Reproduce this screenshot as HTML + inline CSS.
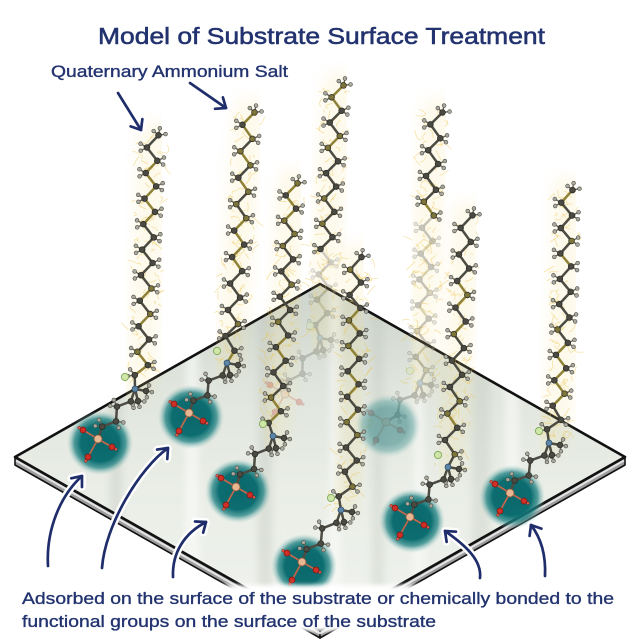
<!DOCTYPE html>
<html><head><meta charset="utf-8">
<style>
html,body{margin:0;padding:0;background:#fff}
body{width:640px;height:640px;overflow:hidden}
svg{display:block}
text{font-family:"Liberation Sans",Arial,sans-serif}
</style></head>
<body>
<svg id="s" width="640" height="640" viewBox="0 0 640 640" xmlns="http://www.w3.org/2000/svg">
<defs>
<radialGradient id="blob" cx="50%" cy="50%" r="50%">
<stop offset="0" stop-color="#0a676a"/>
<stop offset="0.58" stop-color="#0c6d70"/>
<stop offset="0.78" stop-color="#1e8182" stop-opacity="0.75"/>
<stop offset="1" stop-color="#9cc6c3" stop-opacity="0"/>
</radialGradient>
<linearGradient id="surf" gradientUnits="userSpaceOnUse" x1="0" y1="284" x2="0" y2="630">
<stop offset="0" stop-color="#cdd4cb"/>
<stop offset="0.3" stop-color="#e0e5dd"/>
<stop offset="0.6" stop-color="#eaeee7"/>
<stop offset="1" stop-color="#f0f3ee"/>
</linearGradient>
<filter id="b6" x="-50%" y="-50%" width="200%" height="200%"><feGaussianBlur stdDeviation="7"/></filter>
<filter id="b4" x="-50%" y="-50%" width="200%" height="200%"><feGaussianBlur stdDeviation="4"/></filter>
<filter id="b2" x="-20%" y="-50%" width="140%" height="200%"><feGaussianBlur stdDeviation="2"/></filter>
<clipPath id="pc"><polygon points="320,284 625,457 320,630 15,457"/></clipPath>
</defs>

<polygon points="15,457 320,630 320,638 15,465" fill="#9d9d9d" stroke="#111" stroke-width="1.6" stroke-linejoin="round"/>
<polygon points="625,457 320,630 320,638 625,465" fill="#9d9d9d" stroke="#111" stroke-width="1.6" stroke-linejoin="round"/>
<line x1="16" y1="460.5" x2="320" y2="633.5" stroke="#e4e4e4" stroke-width="2"/>
<line x1="624" y1="460.5" x2="320" y2="633.5" stroke="#e4e4e4" stroke-width="2"/>
<polygon points="320,284 625,457 320,630 15,457" fill="url(#surf)"/>
<g clip-path="url(#pc)" filter="url(#b4)">
<rect x="110" y="280" width="12" height="360" fill="#b9c0b6" opacity="0.35"/>
<rect x="186" y="280" width="12" height="360" fill="#ffffff" opacity="0.55"/>
<rect x="258" y="280" width="14" height="360" fill="#b9c0b6" opacity="0.35"/>
<rect x="330" y="280" width="10" height="360" fill="#ffffff" opacity="0.5"/>
<rect x="372" y="280" width="12" height="360" fill="#b9c0b6" opacity="0.3"/>
<rect x="414" y="280" width="10" height="360" fill="#ffffff" opacity="0.5"/>
<rect x="472" y="280" width="18" height="360" fill="#b9c0b6" opacity="0.3"/>
<rect x="505" y="280" width="14" height="360" fill="#ffffff" opacity="0.5"/>
</g>
<polygon points="320,284 625,457 320,630 15,457" fill="none" stroke="#111" stroke-width="2.6" stroke-linejoin="round"/>

<g id="glow"></g>
<g id="fade"></g>
<g id="blobs"></g>
<g id="dark"></g>
<g id="arrows"></g>

<rect x="-10" y="585" width="660" height="46" fill="#fff" filter="url(#b2)"/>

<g fill="#22336f" stroke="#22336f">
<text x="98" y="44" font-size="23" stroke-width="0.55" textLength="447" lengthAdjust="spacingAndGlyphs">Model of Substrate Surface Treatment</text>
<text x="51" y="77" font-size="16.5" stroke-width="0.35" textLength="237" lengthAdjust="spacingAndGlyphs">Quaternary Ammonium Salt</text>
<text x="22" y="604" font-size="17" stroke-width="0.35" textLength="592" lengthAdjust="spacingAndGlyphs">Adsorbed on the surface of the substrate or chemically bonded to the</text>
<text x="22" y="627" font-size="17" stroke-width="0.35" textLength="414" lengthAdjust="spacingAndGlyphs">functional groups on the surface of the substrate</text>
</g>
</svg>
<script>
(function(){
var NS='http://www.w3.org/2000/svg';
var S=document.getElementById('s');
function el(t,a,p){var e=document.createElementNS(NS,t);for(var k in a)e.setAttribute(k,a[k]);(p||S).appendChild(e);return e;}
var seed=12345;function rnd(){seed=(seed*16807)%2147483647;return (seed-1)/2147483646;}
var GL=document.getElementById('glow'),FD=document.getElementById('fade'),BL=document.getElementById('blobs'),DK=document.getElementById('dark'),AR=document.getElementById('arrows');

function along(pts){
  var seg=[],tot=0;
  for(var i=0;i<pts.length-1;i++){var dx=pts[i+1][0]-pts[i][0],dy=pts[i+1][1]-pts[i][1],l=Math.hypot(dx,dy);seg.push([pts[i][0],pts[i][1],dx/l,dy/l,l]);tot+=l;}
  return {tot:tot,at:function(s){for(var k=0;k<seg.length;k++){var g=seg[k];if(s<=g[4]+1e-6||k==seg.length-1){s=Math.min(s,g[4]);return [g[0]+g[2]*s,g[1]+g[3]*s,g[2],g[3]];}s-=g[4];}}};
}
function zig(pts,step,amp,side0,zeroStart){
  var A=along(pts),n=Math.max(1,Math.round(A.tot/step)),out=[];
  for(var i=0;i<=n;i++){var p=A.at(A.tot*i/n);var s=((i+side0)%2)?1:-1;var px=-p[3]*s,py=p[2]*s;var a=(i==n||(zeroStart&&i==0))?0:amp;
    out.push({x:p[0]+px*a,y:p[1]+py*a,px:px,py:py,dx:p[2],dy:p[3]});}
  return out;
}
function L(){return {b:[],h:[],c:[],x:[]};}
function bondCol(){return rnd()<0.3?'#8f8236':'#4c4c43';}
function carbCol(){return rnd()<0.25?'#7d743a':'#4a4a42';}
function addH(lst,c){
  lst.h.push([c.x,c.y,c.x+c.px*6.5-c.dx*3.5,c.y+c.py*6.5-c.dy*3.5]);
  lst.h.push([c.x,c.y,c.x+c.px*6+c.dx*3.5,c.y+c.py*6+c.dy*3.5]);
}
function addMethyl(lst,x0,y0,x,y){
  lst.b.push([x0,y0,x,y,'#4c4c43']);
  var dx=x-x0,dy=y-y0,l=Math.hypot(dx,dy);dx/=l;dy/=l;var px=-dy,py=dx;
  lst.h.push([x,y,x+dx*6,y+dy*6]);
  lst.h.push([x,y,x+dx*2+px*6,y+dy*2+py*6]);
  lst.h.push([x,y,x+dx*2-px*6,y+dy*2-py*6]);
  lst.c.push([x,y,'#4a4a42']);
}
function draw(g,lst){
  lst.b.forEach(function(b){el('line',{x1:b[0],y1:b[1],x2:b[2],y2:b[3],stroke:b[4],'stroke-width':b[5]||2.5,'stroke-linecap':'round'},g);});
  lst.h.forEach(function(h){el('line',{x1:h[0],y1:h[1],x2:h[2],y2:h[3],stroke:'#66665c','stroke-width':1.4},g);});
  lst.h.forEach(function(h){el('circle',{cx:h[2],cy:h[3],r:1.9,fill:'#a9a99f',stroke:'#4a4a42','stroke-width':0.6},g);});
  lst.c.forEach(function(c){el('circle',{cx:c[0],cy:c[1],r:c[3]||2.9,fill:c[2],stroke:c[4]||'#2a2a25','stroke-width':c[5]||0.7},g);});
}
function head(lst,N,P){
  var hz=zig([N,P],12.5,4,1,true);var n=hz.length-1;
  for(var i=0;i<n;i++)lst.b.push([hz[i].x,hz[i].y,hz[i+1].x,hz[i+1].y,'#4c4c43']);
  for(var i=1;i<n;i++){addH(lst,hz[i]);lst.c.push([hz[i].x,hz[i].y,'#4a4a42']);}
  addMethyl(lst,N[0],N[1],N[0]+11,N[1]+2);
  addMethyl(lst,N[0],N[1],N[0]+3,N[1]+12);
  lst.c.push([N[0],N[1],'#5b84a6',3,'#2c4a66']);
  lst.c.push([N[0]-10,N[1]-12,'#cfe6a8',3.6,'#86ad62',1]);
  var O=[[-15,-9],[14,8],[-10,18]];
  O.forEach(function(o){
    var ox=P[0]+o[0],oy=P[1]+o[1];lst.b.push([P[0],P[1],ox,oy,'#c4664c',1.7]);
  });
  O.forEach(function(o){
    var ox=P[0]+o[0],oy=P[1]+o[1],l=Math.hypot(o[0],o[1]);
    var sx=ox+o[0]/l*4.5,sy=oy+o[1]/l*4.5;
    lst.b.push([ox,oy,sx,sy,'#b03028',1.4]);
    lst.c.push([sx,sy,'#e06050',1.4,'#8a2018',0.5]);
    lst.c.push([ox,oy,'#cf2f26',3,'#7c1712']);
  });
  lst.c.push([P[0],P[1],'#e8b690',4,'#8b5b3e',0.8]);
}
function molecule(d){
  var cs=zig(d.axis,13,5.5,0,false);
  var A=along(d.axis);
  var pts=d.axis.map(function(p){return p.join(',');}).join(' ');
  el('polyline',{points:pts,fill:'none',stroke:'#f3dc85','stroke-width':30,opacity:0.16,filter:'url(#b6)','stroke-linecap':'round'},GL);
  var nw=Math.round(A.tot/100*34);
  for(var i=0;i<nw;i++){var p=A.at(rnd()*A.tot);var off=(rnd()-0.5)*32;var x=p[0]-p[3]*off,y=p[1]+p[2]*off;
    el('path',{d:'M'+x.toFixed(1)+','+y.toFixed(1)+' q'+((rnd()-0.5)*10).toFixed(1)+','+((rnd()-0.5)*10).toFixed(1)+' '+((rnd()-0.5)*18).toFixed(1)+','+((rnd()-0.5)*18).toFixed(1),fill:'none',stroke:'#eec44a','stroke-width':0.8,opacity:0.45},GL);}
  var dk=L(),fd=L();
  function grp(c){return (d.fadeY&&c.y>d.fadeY)?fd:dk;}
  var n=cs.length-1;
  for(var i=0;i<n;i++){grp(cs[i+1]).b.push([cs[i].x,cs[i].y,cs[i+1].x,cs[i+1].y,bondCol()]);}
  for(var i=0;i<n;i++){var c=cs[i];var g=grp(c);
    if(i==0){g.h.push([c.x,c.y,c.x-c.dx*7+c.px*1,c.y-c.dy*7+c.py*1]);g.h.push([c.x,c.y,c.x+c.px*7-c.dx*1.5,c.y+c.py*7-c.dy*1.5]);g.h.push([c.x,c.y,c.x-c.px*5-c.dx*4,c.y-c.py*5-c.dy*4]);}
    else addH(g,c);
    g.c.push([c.x,c.y,carbCol()]);}
  if(d.blob){var e=el('ellipse',{cx:d.P[0]+2,cy:d.P[1]+4,rx:33,ry:32,fill:'url(#blob)'},BL);if(d.blobOp)e.setAttribute('opacity',d.blobOp);}
  var hl=d.headFade?fd:dk;
  head(hl,d.axis[d.axis.length-1],d.P);
  var gf=el('g',{opacity:d.fop||0.3},FD);draw(gf,fd);
  var gd=el('g',{},DK);draw(gd,dk);
}
var mols=[
 {axis:[[153,135],[142,372],[135,389]],P:[98,439],blob:1},
 {axis:[[249,112],[232,330],[227,363]],P:[189,413],blob:1},
 {axis:[[292,183],[284,320],[273,436]],P:[236,487],blob:1},
 {axis:[[338,85],[326,250],[320,338]],P:[285,394],fadeY:250,headFade:1,fop:0.25},
 {axis:[[356,257],[351,470],[341,510]],P:[302,562],blob:1},
 {axis:[[437,112],[428,218],[420,383]],P:[386,422],fadeY:218,headFade:1,blob:1,blobOp:0.45,fop:0.3},
 {axis:[[467,215],[457,370],[448,467]],P:[410,517],blob:1},
 {axis:[[567,190],[565,300],[558,410],[549,443]],P:[510,493],blob:1}
];
mols.forEach(molecule);

var NAVY='#1f2e6b';
var arrows=[
 {d:'M48,566 C46,530 60,496 82,476',tip:[82,476],dir:[13,-16]},
 {d:'M102,568 C105,525 140,468 168,448',tip:[168,448],dir:[12,-13]},
 {d:'M173,577 C172,552 185,533 206,522',tip:[206,522],dir:[15,-11]},
 {d:'M480,578 C482,560 465,545 445,531',tip:[445,531],dir:[-12,-11]},
 {d:'M545,576 C546,555 541,538 531,525',tip:[531,525],dir:[-8,-13]},
 {d:'M118,93 L141,130',tip:[141,130],dir:[23,37]},
 {d:'M190,83 L226,108',tip:[226,108],dir:[36,25]}
];
function heads(a){
  var l=Math.hypot(a.dir[0],a.dir[1]),ux=a.dir[0]/l,uy=a.dir[1]/l,ang=0.68,len=11;
  function r(t){var c=Math.cos(t),s=Math.sin(t);return [ux*c-uy*s,ux*s+uy*c];}
  var r1=r(ang),r2=r(-ang);
  return 'M'+(a.tip[0]-r1[0]*len)+','+(a.tip[1]-r1[1]*len)+' L'+a.tip[0]+','+a.tip[1]+' L'+(a.tip[0]-r2[0]*len)+','+(a.tip[1]-r2[1]*len);
}
arrows.forEach(function(a){
  el('path',{d:a.d,fill:'none',stroke:'#fff','stroke-width':7.5,'stroke-linecap':'round'},AR);
  el('path',{d:heads(a),fill:'none',stroke:'#fff','stroke-width':7.5,'stroke-linecap':'round','stroke-linejoin':'round'},AR);
});
arrows.forEach(function(a){
  el('path',{d:a.d,fill:'none',stroke:NAVY,'stroke-width':2.7,'stroke-linecap':'round'},AR);
  el('path',{d:heads(a),fill:'none',stroke:NAVY,'stroke-width':2.7,'stroke-linecap':'round','stroke-linejoin':'round'},AR);
});
})();
</script>
</body></html>
